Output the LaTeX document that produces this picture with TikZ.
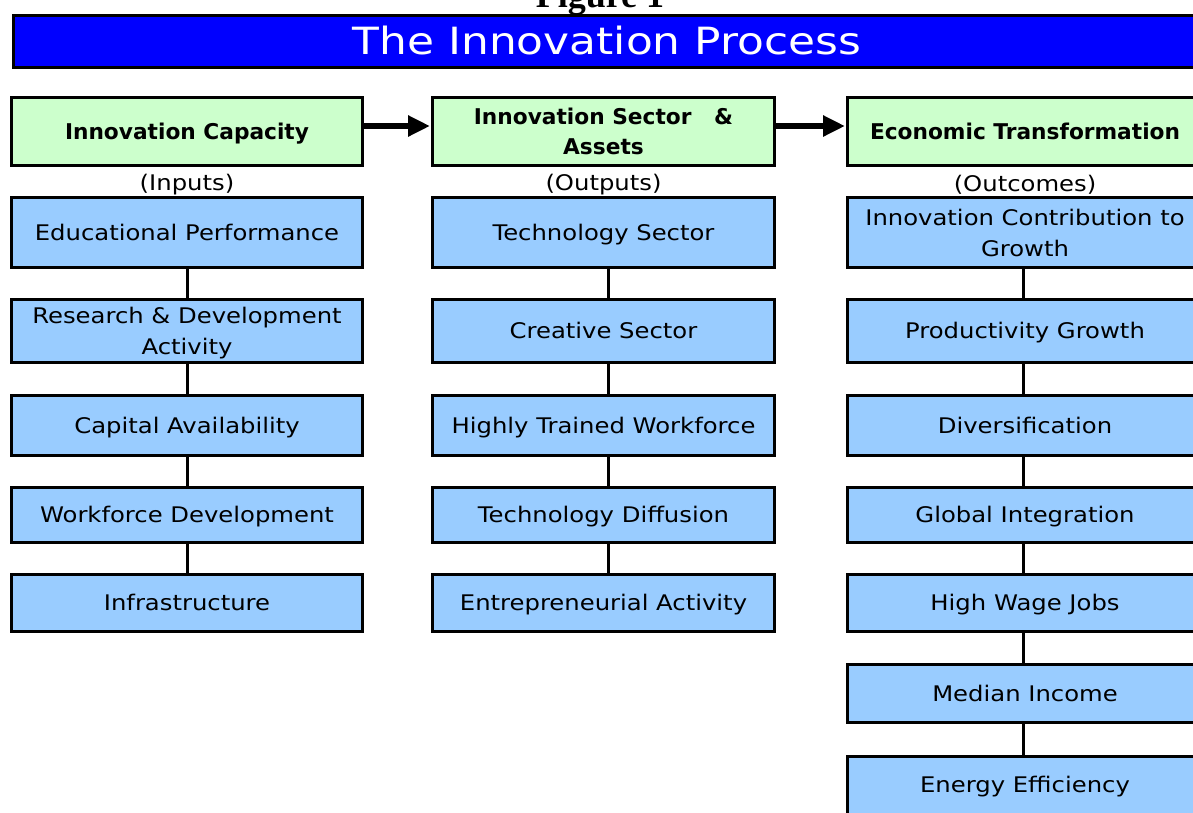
\documentclass[tikz,border=0pt]{standalone}
\usepackage{fontspec}
\setmainfont[FakeStretch=1.13]{DejaVu Sans}
\newfontfamily\headfont{DejaVu Sans}
\newfontfamily\titlefont[FakeStretch=1.17]{DejaVu Sans}
\newfontfamily\figfont{Liberation Serif}
\usetikzlibrary{arrows.meta}
\definecolor{titleblue}{RGB}{0,0,255}
\definecolor{headgreen}{RGB}{204,255,204}
\definecolor{itemblue}{RGB}{153,204,255}
% fixed first-line height and last-line depth, so capitals sit centred in every box
\newcommand\topstrut{\rule{0pt}{21.7pt}}
\newcommand\pairstrut{\rule{0pt}{22pt}}
\newcommand\botstrut{\rule[-6pt]{0pt}{0pt}}
\tikzset{
  frame/.style={draw=black, line width=3pt, inner sep=0pt, align=center,
    execute at begin node=\topstrut, execute at end node=\botstrut},
  headbox/.style={frame, fill=headgreen, font=\headfont\bfseries\fontsize{21.7}{30}\selectfont},
  itembox/.style={frame, fill=itemblue, font=\fontsize{21.5}{31}\selectfont},
  tag/.style={font=\fontsize{21.5}{26}\selectfont, inner sep=0pt},
  link/.style={draw=black, line width=3pt},
  flow/.style={draw=black, line width=6pt, -{Triangle[length=22pt,width=20pt]}, shorten >=1pt},
  w1/.style={minimum width=351pt},
  w2/.style={minimum width=342pt},
  w3/.style={minimum width=355pt},
}
\begin{document}
\begin{tikzpicture}[x=1pt, y=-1pt]
\useasboundingbox (0,0) rectangle (1193,812);
\clip (0,0) rectangle (1193,812);

% caption above the banner
\node[font=\figfont\bfseries\fontsize{36}{36}\selectfont, anchor=base, inner sep=0pt] (fig) at (600,7) {Figure 1};

% title banner
\node[draw=black, line width=3pt, inner sep=0pt, fill=titleblue, anchor=north west, minimum width=1220pt, minimum height=52pt] (bar) at (11.5,13.5) {};
\node[font=\titlefont\fontsize{37.5}{40}\selectfont, text=white, inner sep=0pt] (title) at (607,40.5) {The Innovation Process};

% column headers
\node[headbox, w1, minimum height=68pt] (h1) at (187,131.5) {Innovation Capacity};
\node[headbox, w2, minimum height=68pt] (h2) at (603.5,131.5) {\pairstrut Innovation Sector \ \ \&\\Assets};
\node[headbox, w3, minimum height=68pt] (h3) at (1025,131.5) {Economic Transformation};

\draw[flow] ([yshift=5.5pt]h1.east) -- ([yshift=5.5pt]h2.west);
\draw[flow] ([yshift=5.5pt]h2.east) -- ([yshift=5.5pt]h3.west);

\node[tag] (t1) at (187,185) {(Inputs)};
\node[tag] (t2) at (603.5,185) {(Outputs)};
\node[tag] (t3) at (1025,185) {(Outcomes)};

% inputs
\node[itembox, w1, minimum height=70pt] (a1) at (187,232.5) {Educational Performance};
\node[itembox, w1, minimum height=63pt] (a2) at (187,331) {\pairstrut Research \& Development\\Activity};
\node[itembox, w1, minimum height=60pt] (a3) at (187,425.5) {Capital Availability};
\node[itembox, w1, minimum height=55pt] (a4) at (187,515) {Workforce Development};
\node[itembox, w1, minimum height=57pt] (a5) at (187,603) {Infrastructure};

% outputs
\node[itembox, w2, minimum height=70pt] (b1) at (603.5,232.5) {Technology Sector};
\node[itembox, w2, minimum height=63pt] (b2) at (603.5,331) {Creative Sector};
\node[itembox, w2, minimum height=60pt] (b3) at (603.5,425.5) {Highly Trained Workforce};
\node[itembox, w2, minimum height=55pt] (b4) at (603.5,515) {Technology Diffusion};
\node[itembox, w2, minimum height=57pt] (b5) at (603.5,603) {Entrepreneurial Activity};

% outcomes
\node[itembox, w3, minimum height=70pt] (c1) at (1025,232.5) {\pairstrut Innovation Contribution to\\Growth};
\node[itembox, w3, minimum height=63pt] (c2) at (1025,331) {Productivity Growth};
\node[itembox, w3, minimum height=60pt] (c3) at (1025,425.5) {Diversification};
\node[itembox, w3, minimum height=55pt] (c4) at (1025,515) {Global Integration};
\node[itembox, w3, minimum height=57pt] (c5) at (1025,603) {High Wage Jobs};
\node[itembox, w3, minimum height=58pt] (c6) at (1025,693.5) {Median Income};
\node[itembox, w3, minimum height=58pt] (c7) at (1025,785) {Energy Efficiency};

% vertical links within each column
\foreach \u/\v in {a1/a2,a2/a3,a3/a4,a4/a5}
  \draw[link] (\u.south) -- (\v.north);
\foreach \u/\v in {b1/b2,b2/b3,b3/b4,b4/b5}
  \draw[link] ([xshift=4.5pt]\u.south) -- ([xshift=4.5pt]\v.north);
\foreach \u/\v in {c1/c2,c2/c3,c3/c4,c4/c5,c5/c6,c6/c7}
  \draw[link] ([xshift=-2pt]\u.south) -- ([xshift=-2pt]\v.north);
\end{tikzpicture}
\end{document}
